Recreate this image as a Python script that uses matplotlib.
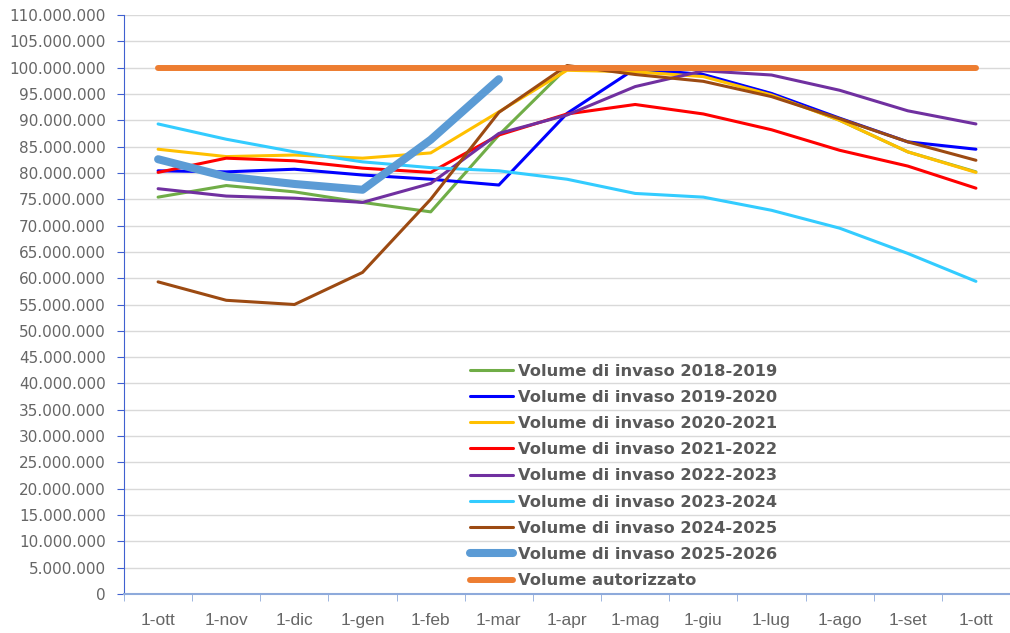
import matplotlib
matplotlib.use("Agg")
import matplotlib.pyplot as plt
from matplotlib.ticker import FuncFormatter, MultipleLocator

months = ["1-ott", "1-nov", "1-dic", "1-gen", "1-feb", "1-mar", "1-apr",
          "1-mag", "1-giu", "1-lug", "1-ago", "1-set", "1-ott"]

v2018_2019 = [75.4, 77.6, 76.4, 74.4, 72.6, 87.2, 100.0, 99.8, 98.5, 95.0, 90.0, 84.0, 80.2]
v2019_2020 = [80.4, 80.2, 80.7, 79.6, 78.8, 77.7, 91.3, 99.8, 98.7, 95.1, 90.4, 85.9, 84.5]
v2020_2021 = [84.5, 83.1, 83.4, 82.8, 83.8, 91.6, 99.5, 99.2, 98.3, 94.8, 90.0, 84.0, 80.1]
v2021_2022 = [80.1, 82.8, 82.3, 80.9, 80.1, 87.2, 91.2, 93.0, 91.2, 88.2, 84.3, 81.3, 77.1]
v2022_2023 = [77.0, 75.6, 75.2, 74.4, 78.0, 87.5, 91.0, 96.4, 99.4, 98.6, 95.7, 91.8, 89.3]
v2023_2024 = [89.3, 86.4, 84.0, 82.1, 81.0, 80.4, 78.8, 76.1, 75.4, 72.9, 69.5, 64.7, 59.4]
v2024_2025 = [59.3, 55.8, 55.0, 61.1, 75.0, 91.5, 100.4, 98.7, 97.4, 94.5, 90.3, 85.9, 82.4]
v2025_2026 = [82.6, 79.3, 77.9, 76.8, 86.3, 97.8]
autorizzato = [100.0] * 13

series = [
    ("Volume di invaso 2018-2019", v2018_2019, "#70ad47", 2.2),
    ("Volume di invaso 2019-2020", v2019_2020, "#0000ff", 2.2),
    ("Volume di invaso 2020-2021", v2020_2021, "#ffc000", 2.2),
    ("Volume di invaso 2021-2022", v2021_2022, "#ff0000", 2.2),
    ("Volume di invaso 2022-2023", v2022_2023, "#7030a0", 2.2),
    ("Volume di invaso 2023-2024", v2023_2024, "#33ccff", 2.2),
    ("Volume di invaso 2024-2025", v2024_2025, "#9c4a12", 2.2),
    ("Volume di invaso 2025-2026", v2025_2026, "#5b9bd5", 5.8),
    ("Volume autorizzato", autorizzato, "#ed7d31", 4.3),
]

plt.rcParams['font.family'] = ['DejaVu Sans']

fig = plt.figure(figsize=(10.10, 6.33), dpi=100)
ax = fig.add_axes([0.1228, 0.0616, 0.8772, 0.9147])

for label, vals, color, lw in series:
    ax.plot(range(len(vals)), [v * 1e6 for v in vals], color=color, lw=lw,
            label=label, solid_capstyle='round', solid_joinstyle='round')

ax.set_xlim(-0.5, 12.5)
ax.set_ylim(0, 110e6)
ax.yaxis.set_major_locator(MultipleLocator(5e6))
ax.yaxis.set_major_formatter(FuncFormatter(lambda v, p: f"{int(round(v)):,}".replace(",", ".")))
ax.set_xticks(range(len(months)))
ax.set_xticklabels(months, family=['Liberation Sans', 'DejaVu Sans'], fontsize=12.5)
ax.set_xticks([i - 0.5 for i in range(14)], minor=True)
ax.tick_params(axis='x', which='major', length=0, pad=14, labelcolor='#666666')
ax.tick_params(axis='x', which='minor', length=5, color='#8eaadb', direction='out')
ax.tick_params(axis='y', which='major', length=5, color='#4060d0', labelsize=11, labelcolor='#666666', pad=8)

ax.grid(axis='y', color='#d9d9d9', lw=1.0)
ax.set_axisbelow(True)
for s in ['top', 'right']:
    ax.spines[s].set_visible(False)
ax.spines['left'].set_color('#4060d0')
ax.spines['bottom'].set_color('#8eaadb')
ax.spines['bottom'].set_linewidth(1.5)

leg = ax.legend(loc='upper left', bbox_to_anchor=(0.4587, 0.436), bbox_transform=fig.transFigure,
                frameon=False, prop={'weight': 'bold', 'size': 11.7},
                handlelength=2.65, handletextpad=0.32, labelspacing=0.69, borderaxespad=0)
for t in leg.get_texts():
    t.set_color('#595959')

fig.savefig("out.png", dpi=100)
